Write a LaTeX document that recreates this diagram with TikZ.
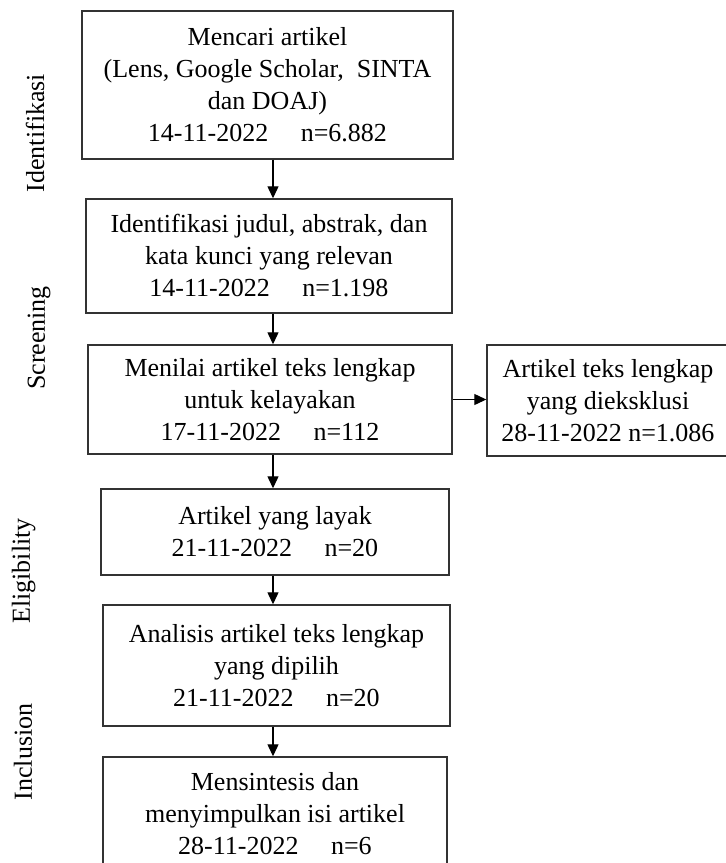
\documentclass[tikz,border=0pt]{standalone}
\usepackage{fontspec}
\setmainfont{Liberation Serif}
\usetikzlibrary{arrows.meta}
\tikzset{
  stage/.style={rotate=90,anchor=base,font=\fontsize{13}{16}\selectfont},
  arr/.style={-{Triangle[length=6pt,width=5.5pt]},line width=0.6pt}
}
\begin{document}
\begin{tikzpicture}[x=0.5pt,y=-0.5pt]
            \useasboundingbox (0,0) rectangle (725,863);
            \coordinate (col) at (273,0);
            \begin{scope}[every node/.style={draw=black!80,line width=0.7pt,align=center,inner sep=0pt,font=\fontsize{13}{16}\selectfont}]
                \node[minimum width=185.5pt,minimum height=74pt] (b1) at (267.5,85) {Mencari artikel\\(Lens, Google Scholar,\ \ SINTA\\dan DOAJ)\\14-11-2022\quad\ n=6.882};
                \node[minimum width=183pt,minimum height=57pt] (b2) at (269,256) {Identifikasi judul, abstrak, dan\\kata kunci yang relevan\\14-11-2022\quad\ n=1.198};
                \node[minimum width=182pt,minimum height=54.5pt] (b3) at (270,399.5) {Menilai artikel teks lengkap\\untuk kelayakan\\17-11-2022\quad\ n=112};
                \node[minimum width=121pt,minimum height=55.5pt] (excl) at (608,400.5) {Artikel teks lengkap\\yang dieksklusi\\28-11-2022 n=1.086};
                \node[minimum width=174pt,minimum height=43pt] (b4) at (275,532) {Artikel yang layak\\21-11-2022\quad\ n=20};
                \node[minimum width=173.5pt,minimum height=60.5pt] (b5) at (276.5,665.5) {Analisis artikel teks lengkap\\yang dipilih\\21-11-2022\quad\ n=20};
                \node[minimum width=172pt,minimum height=56.5pt] (b6) at (275,813.5) {Mensintesis dan\\menyimpulkan isi artikel\\28-11-2022\quad\ n=6};
            \end{scope}
            \node[stage] (identifikasi) at (44,133) {Identifikasi};
            \node[stage] (screening) at (45,338) {Screening};
            \node[stage] (eligibility) at (30,571) {Eligibility};
            \node[stage] (inclusion) at (32,752) {Inclusion};
            \begin{scope}[every edge/.style={arr,draw}]
                \path (b1.south -| col) edge (b2.north -| col);
                \path (b2.south -| col) edge (b3.north -| col);
                \path (b3.south -| col) edge (b4.north -| col);
                \path (b4.south -| col) edge (b5.north -| col);
                \path (b5.south -| col) edge (b6.north -| col);
                \path (b3.east) edge (b3.east -| excl.west);
            \end{scope}
        \end{tikzpicture}
\end{document}
